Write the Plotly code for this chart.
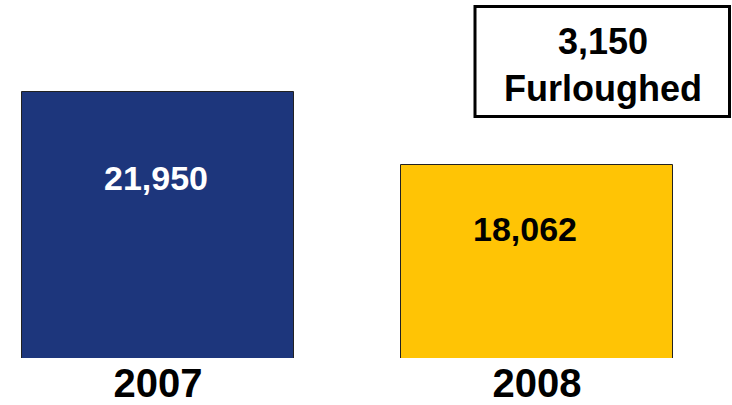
import plotly.graph_objects as go

# ---- data ----
years = ["2007", "2008"]
employees = [21950, 18062]
furloughed = 3150

# ---- style ----
bar_colors = ["#1D367C", "#FFC405"]
label_colors = ["white", "black"]
FONT = "Liberation Sans, Arial, sans-serif"
PLOT_H = 358  # plot-area height in px

fig = go.Figure()
fig.add_trace(go.Bar(
    x=years, y=employees,
    marker=dict(color=bar_colors, line=dict(color="#222222", width=1)),
    width=0.718,
    hoverinfo="skip",
))

# value labels inside the bars
label_shift = [(-2, -86), (-12, -64)]
for i, (v, c, (dx, dy)) in enumerate(zip(employees, label_colors, label_shift)):
    fig.add_annotation(
        x=i, y=v, xref="x", yref="y",
        text=f"<b>{v:,}</b>", showarrow=False,
        xanchor="center", yanchor="middle",
        xshift=dx, yshift=dy,
        font=dict(family=FONT, size=34, color=c),
    )

# furlough box
fig.add_shape(
    type="rect", xref="paper", yref="paper",
    x0=475 / 732, x1=729.5 / 732,
    y0=1 - 116.5 / PLOT_H, y1=1 - 6.5 / PLOT_H,
    line=dict(color="black", width=3), fillcolor="white", layer="above",
)
fig.add_annotation(
    x=603 / 732, y=1 - 64.5 / PLOT_H, xref="paper", yref="paper",
    text=f"<b>{furloughed:,}<br>Furloughed</b>", showarrow=False,
    xanchor="center", yanchor="middle",
    font=dict(family=FONT, size=36, color="black"),
)

fig.update_layout(
    width=732, height=405,
    margin=dict(l=0, r=0, t=0, b=405 - PLOT_H, autoexpand=False),
    paper_bgcolor="white", plot_bgcolor="white",
    showlegend=False,
    bargap=0,
    xaxis=dict(
        type="category", range=[-0.4169, 1.5145],
        showgrid=False, zeroline=False, showline=False, ticks="",
        tickfont=dict(family=FONT, size=40, color="black", weight="bold"),
        ticklabelstandoff=-2,
        automargin=False,
        fixedrange=True,
    ),
    yaxis=dict(
        range=[7783, 26850], visible=False, showgrid=False, zeroline=False,
        fixedrange=True,
    ),
)

fig.write_html(
    "out.html",
    config={"displayModeBar": False},
    post_script="document.body.style.margin='0';document.body.style.padding='0';",
)
